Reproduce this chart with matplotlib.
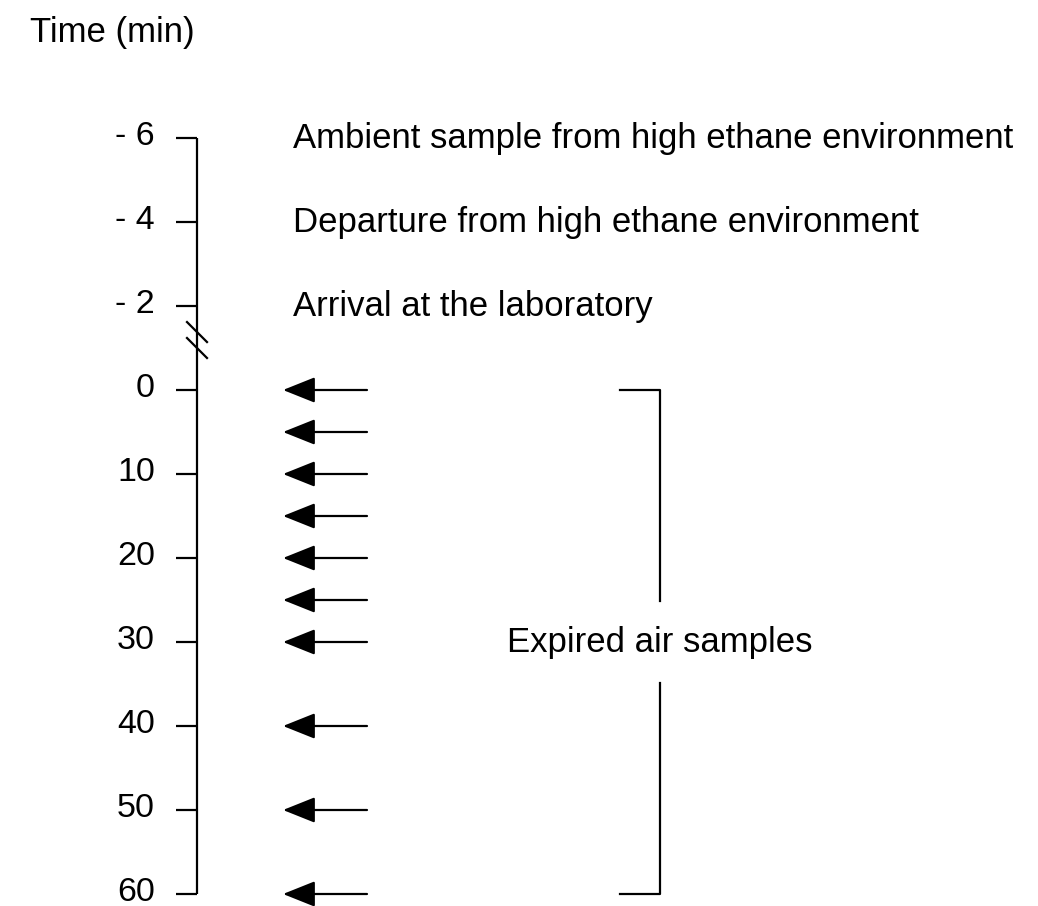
import matplotlib
matplotlib.use("Agg")
import matplotlib.pyplot as plt

plt.rcParams['font.family'] = ['Liberation Sans', 'DejaVu Sans']

# ---- data ----
tick_times = [-6, -4, -2, 0, 10, 20, 30, 40, 50, 60]
tick_labels = ['- 6', '- 4', '- 2', '0', '10', '20', '30', '40', '50', '60']
event_times = [-6, -4, -2]
event_labels = ['Ambient sample from high ethane environment',
                'Departure from high ethane environment',
                'Arrival at the laboratory']
sample_times = [0, 5, 10, 15, 20, 25, 30, 40, 50, 60]
bracket_label = 'Expired air samples'
axis_title = 'Time (min)'


def pos(t):
    """Broken time axis: pre-arrival minutes are stretched 5x."""
    return 5 * t if t < 0 else t


W, H = 1038, 906
PX = 8.4  # pixels per position unit
fig = plt.figure(figsize=(W / 100, H / 100), dpi=100)
ax = fig.add_axes([0, 0, 1, 1])
ax.set_xlim(0, W)
ax.set_ylim((H - 390) / PX, -390 / PX)
ax.axis('off')

FS = 25
TFS = 24.5
LW = 1.6
x_axis = 197
tick_len = 21
base_off = 10 / PX   # baseline sits a little below the mark
tick_off = 7 / PX

# axis line
ax.plot([x_axis, x_axis], [pos(min(tick_times)), pos(max(tick_times))],
        color='black', lw=LW, solid_capstyle='butt')
# ticks + labels
for t, lab in zip(tick_times, tick_labels):
    p = pos(t)
    ax.plot([x_axis - tick_len, x_axis], [p, p], color='black', lw=LW,
            solid_capstyle='butt')
    ax.text(155, p + tick_off, lab, ha='right', va='baseline', fontsize=TFS)

# axis break marks between -2 and 0
for off in (-6.9, -5.0):
    ax.plot([x_axis - 10, x_axis + 10], [off - 1.19, off + 1.19],
            color='black', lw=LW)

# event labels
for t, lab in zip(event_times, event_labels):
    ax.text(293, pos(t) + base_off, lab, ha='left', va='baseline', fontsize=FS)

# sample arrows
for t in sample_times:
    p = pos(t)
    ax.annotate('', xy=(283, p), xytext=(367, p),
                arrowprops=dict(arrowstyle='-|>,head_length=1.0,head_width=0.4',
                                mutation_scale=20, lw=LW, color='black',
                                shrinkA=0, shrinkB=0))

# bracket
bx0, bx1 = 620, 660
top, bot = pos(sample_times[0]), pos(sample_times[-1])
mid = pos(30)
gap = 4.9
ax.plot([bx0, bx1, bx1], [top, top, mid - gap], color='black', lw=LW)
ax.plot([bx1, bx1, bx0], [mid + gap, bot, bot], color='black', lw=LW)
ax.text(bx1, mid + base_off, bracket_label, ha='center', va='baseline',
        fontsize=FS)

# title
fig.text(30 / W, 1 - 42 / H, axis_title, ha='left', va='baseline', fontsize=FS)

fig.savefig('out.png', dpi=100, facecolor='white')
